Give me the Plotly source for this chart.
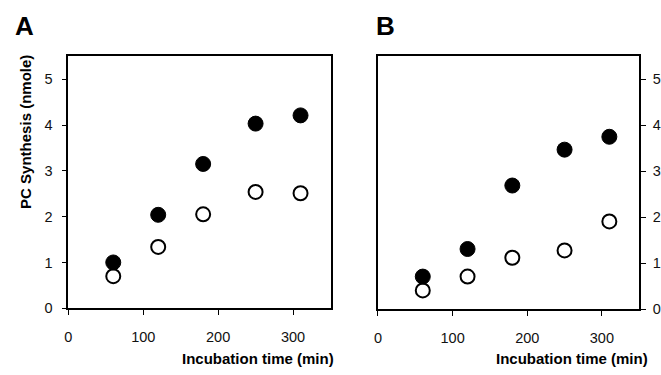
import plotly.graph_objects as go

time_min = [60, 120, 180, 250, 310]
a_filled = [1.00, 2.04, 3.15, 4.03, 4.21]
a_open = [0.70, 1.34, 2.05, 2.54, 2.51]
b_filled = [0.71, 1.31, 2.69, 3.47, 3.75]
b_open = [0.41, 0.71, 1.12, 1.28, 1.91]
x_ticks = [0, 100, 200, 300]
y_ticks = [0, 1, 2, 3, 4, 5]

W, H = 661, 375
FONT = "Liberation Sans, Arial, sans-serif"

fig = go.Figure()

def add_pair(xa, ya, filled, opened):
    fig.add_trace(go.Scatter(x=time_min, y=opened, mode="markers", xaxis=xa, yaxis=ya,
                             marker=dict(size=14, color="white", line=dict(color="black", width=2)),
                             showlegend=False, cliponaxis=False))
    fig.add_trace(go.Scatter(x=time_min, y=filled, mode="markers", xaxis=xa, yaxis=ya,
                             marker=dict(size=15, color="black", line=dict(color="black", width=1)),
                             showlegend=False, cliponaxis=False))

add_pair("x", "y", a_filled, a_open)
add_pair("x2", "y2", b_filled, b_open)

common = dict(showline=True, linecolor="black", linewidth=1.5, mirror=True,
              ticks="outside", ticklen=5, tickwidth=1.2, tickcolor="black",
              showgrid=False, zeroline=False, ticklabeloverflow="allow",
              tickfont=dict(family=FONT, size=14.5, color="#111"))

fig.update_layout(
    width=W, height=H, autosize=False,
    margin=dict(l=0, r=0, t=0, b=0),
    paper_bgcolor="white", plot_bgcolor="white",
    xaxis=dict(domain=[65 / W, 330 / W], range=[0, 350], tickvals=x_ticks, anchor="y",
               ticklabelstandoff=10, **common),
    yaxis=dict(domain=[(H - 315) / H, (H - 57.5) / H], range=[0, 5.5], tickvals=y_ticks,
               side="left", anchor="x", ticklabelstandoff=6, **common),
    xaxis2=dict(domain=[378 / W, 642 / W], range=[0, 350], tickvals=x_ticks, anchor="y2",
                ticklabelstandoff=10, **common),
    yaxis2=dict(domain=[(H - 316) / H, (H - 57.5) / H], range=[0, 5.5], tickvals=y_ticks,
                side="right", anchor="x2", ticklabelstandoff=4, **common),
)

ann = [
    dict(text="<b>A</b>", x=9 / W, y=(H - 27) / H, xanchor="left", yanchor="middle",
         font=dict(family=FONT, size=26, color="black")),
    dict(text="<b>B</b>", x=374 / W, y=(H - 27) / H, xanchor="left", yanchor="middle",
         font=dict(family=FONT, size=26, color="black")),
    dict(text="<b>PC Synthesis (nmole)</b>", x=21 / W, y=(H - 135) / H, textangle=-90,
         xanchor="center", yanchor="middle", font=dict(family=FONT, size=15, color="black")),
    dict(text="<b>Incubation time (min)</b>", x=336 / W, y=(H - 366) / H, xanchor="right",
         yanchor="middle", font=dict(family=FONT, size=15, color="black")),
    dict(text="<b>Incubation time (min)</b>", x=653 / W, y=(H - 366) / H, xanchor="right",
         yanchor="middle", font=dict(family=FONT, size=15, color="black")),
]
for a in ann:
    a.update(xref="paper", yref="paper", showarrow=False)
fig.update_layout(annotations=ann)

fig.write_html("out.html", config={"displayModeBar": False},
               post_script="document.body.style.margin='0';document.body.style.overflow='hidden';")
